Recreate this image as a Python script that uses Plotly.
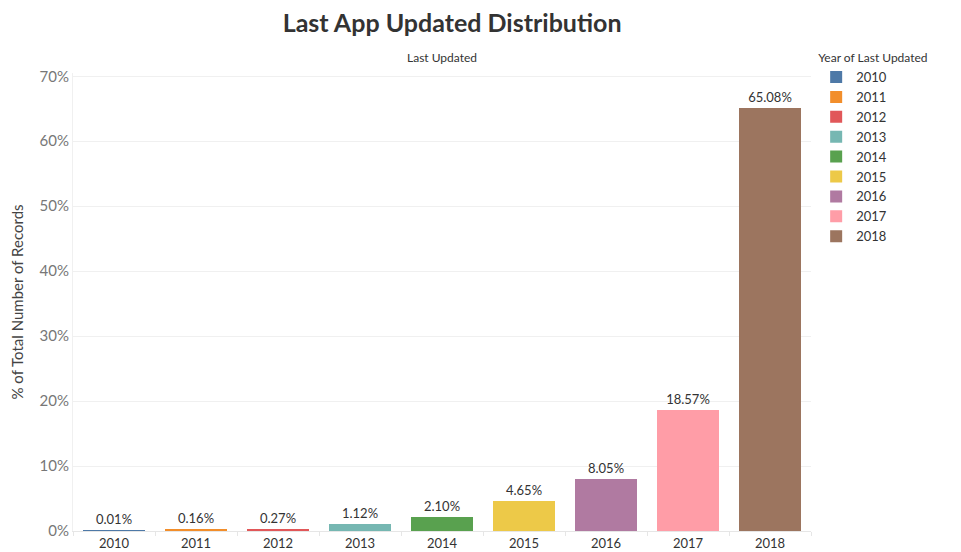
import plotly.graph_objects as go

years = ["2010", "2011", "2012", "2013", "2014", "2015", "2016", "2017", "2018"]
values = [0.01, 0.16, 0.27, 1.12, 2.10, 4.65, 8.05, 18.57, 65.08]
labels = ["0.01%", "0.16%", "0.27%", "1.12%", "2.10%", "4.65%", "8.05%", "18.57%", "65.08%"]
colors = ["#4e79a7", "#f28e2b", "#e15759", "#76b7b2", "#59a14f",
          "#edc948", "#b07aa1", "#ff9da7", "#9c755f"]
y_ticks = [0, 10, 20, 30, 40, 50, 60, 70]

FONT = "Lato"

fig = go.Figure()
for yr, v, lab, c in zip(years, values, labels, colors):
    fig.add_trace(go.Bar(
        x=[yr], y=[v], name=yr, marker_color=c, marker_line_width=0,
        text=[lab], textposition="outside", cliponaxis=False,
        textfont=dict(family=FONT, size=13, color="#333333"),
        hoverinfo="x+y",
    ))

# page body has an 8px margin, so the figure is sized 953x544
fig.update_layout(
    width=953, height=544,
    barmode="stack", bargap=0.245,
    plot_bgcolor="white", paper_bgcolor="white",
    margin=dict(l=65, r=150, t=65, b=21, autoexpand=False),
    title=dict(text="<b>Last App Updated Distribution</b>", x=0.466, xanchor="center",
               y=0.972, yanchor="middle",
               font=dict(family=FONT, size=25, color="#333333")),
    legend=dict(title=dict(text="Year of Last Updated", font=dict(family=FONT, size=12, color="#333333")),
                x=1.007, xanchor="left", y=1.058, yanchor="top",
                font=dict(family=FONT, size=13, color="#333333"),
                tracegroupgap=0, itemwidth=30, traceorder="normal"),
    xaxis=dict(type="category", tickson="boundaries", ticks="outside", ticklen=4,
               tickcolor="#e6e6e6", showgrid=False, showline=True, linecolor="#e6e6e6",
               tickfont=dict(family=FONT, size=13, color="#333333"), automargin=False),
    yaxis=dict(range=[0, 70.5], tickvals=y_ticks, ticktext=[f"{t}%" for t in y_ticks],
               showgrid=True, gridcolor="#f0f0f0", zeroline=False,
               showline=True, linecolor="#f0f0f0",
               tickfont=dict(family=FONT, size=15, color="#777777"), automargin=False,
               title=dict(text="% of Total Number of Records", standoff=14,
                          font=dict(family=FONT, size=15, color="#444444"))),
    annotations=[dict(text="Last Updated", xref="paper", yref="paper", x=0.5, y=1.013,
                      xanchor="center", yanchor="bottom", showarrow=False,
                      font=dict(family=FONT, size=12, color="#333333"))],
)

fig.write_html("out.html")
